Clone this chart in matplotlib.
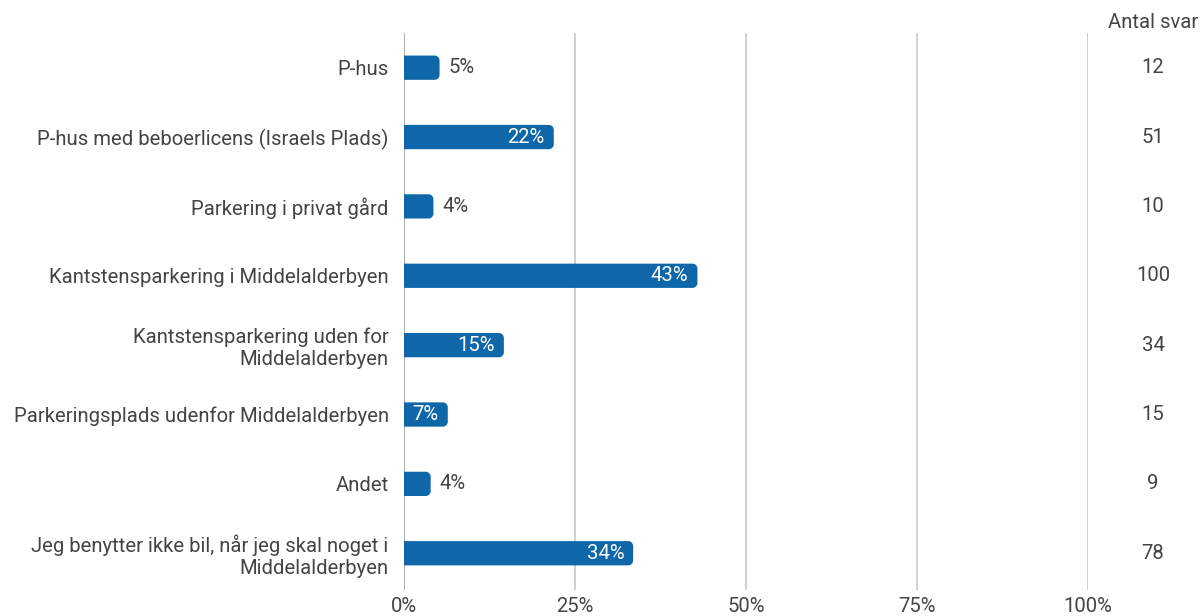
import numpy as np
import matplotlib.pyplot as plt
import matplotlib.transforms as mtransforms
from matplotlib.patches import Polygon

plt.rcParams['font.family'] = ['Roboto', 'DejaVu Sans']

categories = ['P-hus',
              'P-hus med beboerlicens (Israels Plads)',
              'Parkering i privat gård',
              'Kantstensparkering i Middelalderbyen',
              'Kantstensparkering uden for\nMiddelalderbyen',
              'Parkeringsplads udenfor Middelalderbyen',
              'Andet',
              'Jeg benytter ikke bil, når jeg skal noget i\nMiddelalderbyen']
percent = [5.2, 21.9, 4.3, 42.9, 14.6, 6.4, 3.9, 33.5]
labels = ['5%', '22%', '4%', '43%', '15%', '7%', '4%', '34%']
antal = [12, 51, 10, 100, 34, 15, 9, 78]

BLUE = '#0f67aa'
TXT = '#444444'
GRID = '#c8c8c8'
FS = 14.6

fig = plt.figure(figsize=(12, 6.16), dpi=100)
ax = fig.add_axes([404/1200, 1 - 590/616, (1088-404)/1200, (590-33)/616])

ax.set_xlim(0, 100)
ax.set_ylim(len(categories) - 0.47, -0.5)

# px per unit, for the rounded right corners
px_x = (1088 - 404) / 100
px_y = (590 - 33) / (len(categories) + 0.03)
r_px = 5
rx = r_px / px_x
ry = r_px / px_y


def bar_shape(v, yc, h):
    top, bot = yc - h/2, yc + h/2
    t = np.linspace(0, np.pi/2, 12)
    c1 = np.column_stack([v - rx + rx*np.sin(t), bot - ry + ry*np.cos(t)])
    c2 = np.column_stack([v - rx + rx*np.cos(t), top + ry - ry*np.sin(t)])
    return np.vstack([[0, bot], c1, c2, [0, top]])


bh = 0.35
for i, v in enumerate(percent):
    ax.add_patch(Polygon(bar_shape(v, i, bh), closed=True, fc=BLUE, ec='none', zorder=3))
    if v >= 6:
        ax.text(v - 9/px_x, i, labels[i], ha='right', va='center', color='white',
                fontsize=FS, zorder=4)
    else:
        ax.text(v + 9/px_x, i, labels[i], ha='left', va='center', color=TXT,
                fontsize=FS, zorder=4)

ax.set_yticks(range(len(categories)))
ax.set_yticklabels(categories, fontsize=FS, color=TXT, linespacing=1.2)
ax.set_xticks([0, 25, 50, 75, 100])
ax.set_xticklabels(['0%', '25%', '50%', '75%', '100%'], fontsize=FS, color=TXT)
ax.tick_params(axis='both', length=0)
ax.tick_params(axis='y', pad=11)
ax.tick_params(axis='x', pad=5)

ax.grid(axis='x', color=GRID, linewidth=1.2, zorder=0)
ax.axvline(0, color='#aaaaaa', linewidth=1.3, zorder=2)
for s in ax.spines.values():
    s.set_visible(False)

trans = mtransforms.blended_transform_factory(fig.transFigure, ax.transData)
for i, n in enumerate(antal):
    ax.text(1153/1200, i, str(n), transform=trans, ha='center', va='center',
            fontsize=FS, color=TXT)
fig.text(1153/1200, 1 - 22/616, 'Antal svar', ha='center', va='center',
         fontsize=FS, color=TXT)

fig.savefig('out.png', dpi=100)
